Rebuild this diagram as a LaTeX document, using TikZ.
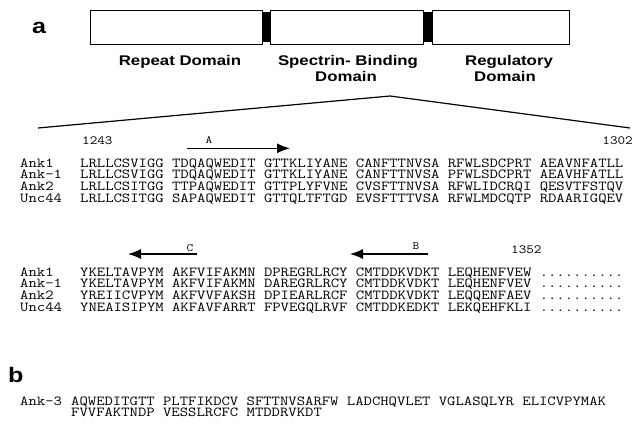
\documentclass[tikz,border=0pt]{standalone}
\usepackage{fontspec}
\setmainfont{Liberation Sans}
\usetikzlibrary{arrows.meta}
\newcommand\wide[1]{\scalebox{1.2}[1]{#1}}
\newcommand\cour[1]{\scalebox{1.18}[1]{#1}}

\begin{document}
\begin{tikzpicture}[x=1pt,y=-1pt]
\tikzset{dombox/.style={draw,line width=.8pt,minimum height=34pt,inner sep=0pt},
 hinge/.style={fill=black,minimum width=8pt,minimum height=30pt,inner sep=0pt},
 domlab/.style={font=\fontsize{14}{16}\selectfont\bfseries,anchor=base,inner sep=0pt},
 panel/.style={font=\fontsize{21}{21}\selectfont\bfseries,anchor=base west,inner sep=0pt},
 seq/.style={font=\fontsize{13.75}{14}\selectfont\ttfamily,anchor=base west,inner sep=0pt,
  text height=8.5pt,text depth=1.5pt},
 resnum/.style={font=\fontsize{12.5}{13}\selectfont\ttfamily,anchor=base west,inner sep=0pt},
 strand/.style={line width=1.2pt,-{Latex[length=13pt,width=10pt]}},
 tag/.style={font=\fontsize{11}{11}\selectfont\ttfamily,anchor=base,inner sep=0pt}}
\useasboundingbox (0,0) rectangle (634,429);
% domain map
\node[panel] (pa) at (32,33) {\wide{a}};
\node[dombox,minimum width=172pt] (rep) at (176,27) {};
\node[hinge] (h1) at (266,27) {};
\node[dombox,minimum width=153pt] (spec) at (346.5,27) {};
\node[hinge,minimum width=9pt] (h2) at (427.5,27) {};
\node[dombox,minimum width=137pt] (reg) at (500.5,27) {};
\node[domlab] (replab) at (180,65) {\wide{Repeat Domain}};
\node[domlab] (speclab) at (348,65) {\wide{Spectrin- Binding}};
\node[domlab] (speclab2) at (346,81) {\wide{Domain}};
\node[domlab] (reglab) at (509,65) {\wide{Regulatory}};
\node[domlab] (reglab2) at (505,81) {\wide{Domain}};
% zoom into the spectrin-binding domain
\coordinate (apex) at (390,96);
\coordinate (lft) at (38,128);
\coordinate (rgt) at (630,128);
\draw[line width=1.2pt] (lft) -- (apex) -- (rgt);
\node[resnum] (n1243) at (82,144) {\cour{1243}};
\node[resnum,anchor=base east] (n1302) at (633,144) {\cour{1302}};
\node[resnum] (n1352) at (511,253) {\cour{1352}};
% strands
\coordinate (a0) at (187,148.3); \coordinate (a1) at (290,148.3);
\draw[strand] (a0) -- (a1);
\node[tag] (la) at (209,143) {\cour{A}};
\coordinate (c0) at (197,254); \coordinate (c1) at (128,254);
\draw[strand] (c0) -- (c1);
\node[tag] (lc) at (190,251) {\cour{C}};
\coordinate (b0) at (428,254); \coordinate (b1) at (350,254);
\draw[strand] (b0) -- (b1);
\node[tag] (lb) at (416,249) {\cour{B}};
% alignment, first half
\foreach \nm/\sq [count=\i] in {
 Ank1/{LRLLCSVIGG TDQAQWEDIT GTTKLIYANE CANFTTNVSA RFWLSDCPRT AEAVNFATLL},
 Ank-1/{LRLLCSVIGG TDQAQWEDIT GTTKLIYANE CANFTTNVSA PFWLSDCPRT AEAVHFATLL},
 Ank2/{LRLLCSITGG TTPAQWEDIT GTTPLYFVNE CVSFTTNVSA RFWLIDCRQI QESVTFSTQV},
 Unc44/{LRLLCSITGG SAPAQWEDIT GTTQLTFTGD EVSFTTTVSA RFWLMDCQTP RDAARIGQEV}}{
 \node[seq] (nma\i) at (20,{167+11.7*(\i-1)}) {\cour{\nm}};
 \node[seq] (sqa\i) at (80,{167+11.7*(\i-1)}) {\cour{\sq}};
}
% alignment, second half
\foreach \nm/\sq [count=\i] in {
 Ank1/{YKELTAVPYM AKFVIFAKMN DPREGRLRCY CMTDDKVDKT LEQHENFVEW ..........},
 Ank-1/{YKELTAVPYM AKFVIFAKMN DAREGRLRCY CMTDDKVDKT LEQHENFVEV ..........},
 Ank2/{YREIICVPYM AKFVVFAKSH DPIEARLRCF CMTDDKVDKT LEQQENFAEV ..........},
 Unc44/{YNEAISIPYM AKFAVFARRT FPVEGQLRVF CMTDDKEDKT LEKQEHFKLI ..........}}{
 \node[seq] (nmb\i) at (20,{276+11.7*(\i-1)}) {\cour{\nm}};
 \node[seq] (sqb\i) at (80,{276+11.7*(\i-1)}) {\cour{\sq}};
}
% panel b
\node[panel] (pb) at (8,382) {\wide{b}};
\node[seq] (nmc) at (20,405) {\cour{Ank-3}};
\node[seq] (sqc1) at (71,405) {\cour{AQWEDITGTT PLTFIKDCV SFTTNVSARFW LADCHQVLET VGLASQLYR ELICVPYMAK}};
\node[seq] (sqc2) at (71,416.5) {\cour{FVVFAKTNDP VESSLRCFC MTDDRVKDT}};
\end{tikzpicture}
\end{document}
